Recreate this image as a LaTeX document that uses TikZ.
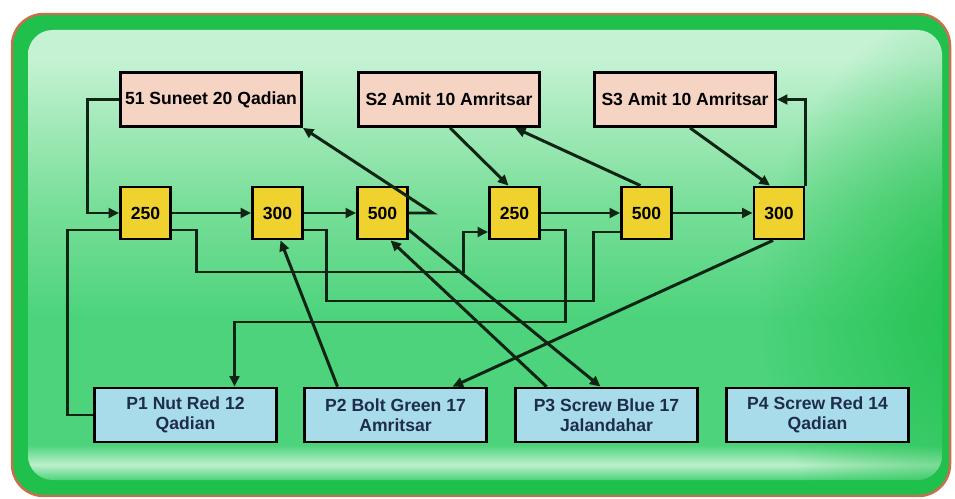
\documentclass[tikz,border=0pt]{standalone}
\usepackage{fontspec}
\setmainfont{Liberation Sans}
\usetikzlibrary{arrows.meta,calc,fadings,positioning}
\definecolor{frameedge}{HTML}{C8704E}
\definecolor{framegreen}{HTML}{1FC04C}
\definecolor{panellight}{HTML}{C4F2D3}
\definecolor{panelmid}{HTML}{7ADF9A}
\definecolor{panelgreen}{HTML}{4CD37C}
\definecolor{panelband}{HTML}{BDEFCB}
\definecolor{suppfill}{HTML}{F6D4C4}
\definecolor{costfill}{HTML}{EFD22E}
\definecolor{partfill}{HTML}{A9DCEB}
\definecolor{partink}{HTML}{1E2D4A}
\definecolor{wire}{HTML}{102414}
\pgfdeclareverticalshading{panelshade}{100bp}{color(0bp)=(panelgreen); color(25bp)=(panelgreen);
  color(26.7bp)=(panelband); color(28.9bp)=(panelgreen); color(42.8bp)=(panelgreen);
  color(56bp)=(panelmid); color(71.7bp)=(panellight); color(100bp)=(panellight)}
\tikzfading[name=side glow,inner color=transparent!0,outer color=transparent!100]

\begin{document}
\begin{tikzpicture}[x=0.02cm,y=-0.02cm,>={Triangle[length=6pt,width=5.5pt]},
  font=\bfseries\fontsize{10}{11.5}\selectfont,
  supp/.style={draw=black,line width=1.6pt,fill=suppfill,minimum width=3.62cm,minimum height=1.08cm,inner sep=1pt},
  cost/.style={draw=black,line width=1.6pt,fill=costfill,minimum width=1.0cm,minimum height=1.04cm,inner sep=1pt},
  part/.style={draw=black,line width=1.6pt,fill=partfill,minimum width=3.64cm,minimum height=1.08cm,align=center,text=partink,inner sep=1pt},
  link/.style={wire,line width=1.7pt}]
\useasboundingbox (0,0) rectangle (955,499);
\fill[white] (0,0) rectangle (955,499);

% glossy green panel
\draw[frameedge,line width=1.4pt,fill=framegreen,rounded corners=18pt] (12,14) rectangle (950,496);
\shade[shading=panelshade,rounded corners=14pt] (28,30) rectangle (942,480);
\begin{scope}
  \clip[rounded corners=14pt] (28,30) rectangle (942,480);
  \fill[framegreen,path fading=side glow] (990,300) ellipse[x radius=230,y radius=300];
\end{scope}

% suppliers
\node[supp] (s1) at (211,99.5) {51 Suneet 20 Qadian};
\node[supp] (s2) at (449,99.5) {S2 Amit 10 Amritsar};
\node[supp] (s3) at (685,99.5) {S3 Amit 10 Amritsar};

% prices
\node[cost] (c1) at (145.5,213) {250};
\node[cost] (c2) at (277.5,213) {300};
\node[cost] (c3) at (382.5,213) {500};
\node[cost] (c4) at (514.5,213) {250};
\node[cost] (c5) at (646.5,213) {500};
\node[cost] (c6) at (779,213) {300};

% parts
\node[part] (p1) at (185.5,415) {P1 Nut Red 12\\Qadian};
\node[part] (p2) at (395.5,415) {P2 Bolt Green 17\\Amritsar};
\node[part] (p3) at (606.5,415) {P3 Screw Blue 17\\Jalandahar};
\node[part] (p4) at (817.5,415) {P4 Screw Red 14\\Qadian};

% price chain
\draw[link,->] (s1.west) -- ++(-32,0) |- (c1.west);
\draw[link,->] (c1.east) -- (c2.west);
\draw[link,->] (c2.east) -- (c3.west);
\draw[link,->] (c4.east) -- (c5.west);
\draw[link,->] (c5.east) -- (c6.west);
\draw[link,->] (c3.east) -- ++(24,0) -- (s1.south east);
\draw[link,->] ($(s2.south)+(1,0)$) -- ($(c4.north)+(-6,0)$);
\draw[link,->] ($(c5.north)+(-6,0)$) -- ($(s2.south)+(66,0)$);
\draw[link,->] ($(s3.south)+(5,0)$) -- ($(c6.north)+(-9,0)$);
\draw[link,->] (c6.north east) |- (s3.east);

% lower wires
\draw[link,->] ($(c1.east)+(0,17)$) -| ++(25,42) -| ($(c4.west)+(-25,19)$) -- ($(c4.west)+(0,19)$);
\draw[link] ($(c2.east)+(0,17)$) -| ++(23,71) -| ($(c5.west)+(-27,19)$) -- ($(c5.west)+(0,19)$);
\draw[link,->] ($(c4.east)+(0,17)$) -| ++(25,92) -| ($(p1.north)+(49,0)$);
\draw[link] (p1.west) -| ($(c1.west)+(-52,17)$) -- ($(c1.west)+(0,17)$);

% diagonals between parts and prices
\draw[link,->] ($(p2.north)+(-58,0)$) -- ($(c2.south)+(3,0)$);
\draw[link,->] ($(p3.north)+(-60,0)$) -- ($(c3.south)+(8,0)$);
\draw[link,->] ($(c3.east)+(0,17)$) -- ($(p3.north)+(-6,0)$);
\draw[link,->] ($(c6.south)+(-6,0)$) -- ($(p2.north)+(57,0)$);
\end{tikzpicture}
\end{document}
